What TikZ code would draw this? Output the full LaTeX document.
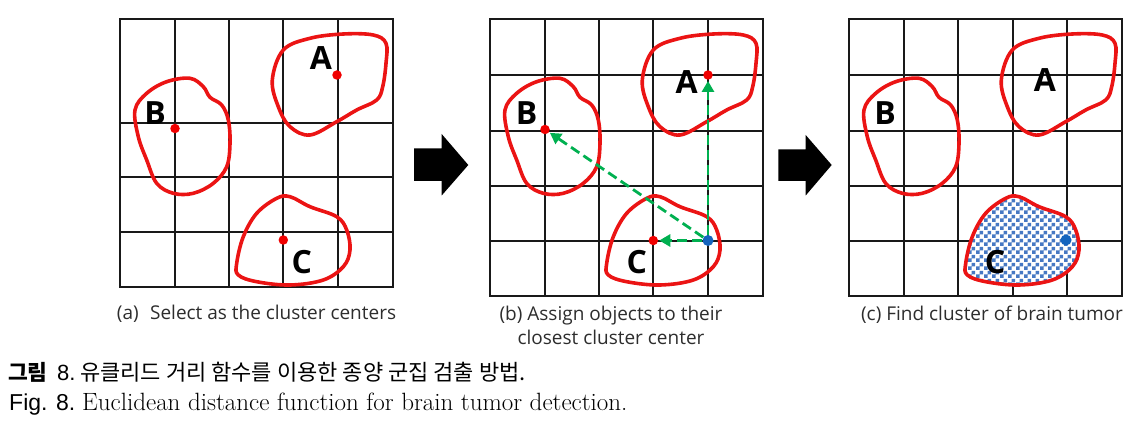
\documentclass[tikz,border=0pt]{standalone}
\usepackage{fontspec}
\newfontfamily\osans{Open Sans}
\newfontfamily\krfont{Noto Sans CJK KR}
\newfontfamily\arialfont{Liberation Sans}
\usetikzlibrary{arrows.meta,patterns}
\definecolor{blobred}{RGB}{235,20,20}
\definecolor{dotred}{RGB}{240,0,0}
\definecolor{dotblue}{RGB}{20,100,190}
\definecolor{arrgreen}{RGB}{0,176,80}
\definecolor{tumorblue}{RGB}{70,120,195}
\definecolor{captgray}{RGB}{45,45,45}
\pgfdeclarepatternformonly{bluechecker}{\pgfqpoint{0pt}{0pt}}{\pgfqpoint{8pt}{8pt}}{\pgfqpoint{8pt}{8pt}}{%
  \pgfpathrectangle{\pgfqpoint{0pt}{0pt}}{\pgfqpoint{4pt}{4pt}}%
  \pgfpathrectangle{\pgfqpoint{4pt}{4pt}}{\pgfqpoint{4pt}{4pt}}%
  \pgfusepath{fill}}
\newcommand{\myblobA}{plot[smooth cycle,tension=0.6] coordinates {(152.3,61) (163.3,31) (190,19.3) (223.3,15) (253.3,16) (266,24.3) (266,44.3) (262.7,67.7) (256.7,81) (236.7,91) (216.7,102.7) (190,116) (170,107.7) (158.3,87.7)}}
\newcommand{\myblobB}{plot[smooth cycle,tension=0.6] coordinates {(15,91) (26.7,74.3) (46.7,62.7) (70,59.3) (83.3,67.7) (90,78.3) (101.7,86) (108.3,101) (110,124.3) (106.7,147.7) (93.3,164.3) (73.3,174.3) (53.3,174.3) (36.7,164.3) (26.7,141) (18.3,117.7)}}
\newcommand{\myblobC}{plot[smooth cycle,tension=0.6] coordinates {(116.7,244.3) (123.3,217.7) (136.7,194.3) (156.7,179.3) (170,177.7) (190,187.7) (216.7,197.7) (226.7,211) (230,231) (223.3,247.7) (203.3,261) (170,266) (136.7,262.7) (118.3,256)}}
\tikzset{
  gridline/.style={line width=1.8pt, draw=black!90},
  blob/.style={line width=3.6pt, draw=blobred},
  reddot/.style={circle, fill=dotred, inner sep=0pt, minimum size=9.5pt},
  bluedot/.style={circle, fill=dotblue, inner sep=0pt, minimum size=11pt},
  letter/.style={font=\osans\bfseries\fontsize{32}{32}\selectfont, inner sep=0pt},
  greenarrow/.style={arrgreen, line width=2.8pt, dash pattern=on 10pt off 5pt, -{Triangle[length=11pt,width=12pt]}, shorten >=1pt},
  bigarrow/.style={fill=black},
  panelcap/.style={font=\osans\fontsize{19}{24}\selectfont, text=captgray, inner sep=0pt}
}
\begin{document}
\begin{tikzpicture}[x=1pt,y=-1pt]
\useasboundingbox (0,0) rectangle (1144,422);
% ---------- panel (a)
\begin{scope}[xshift=120pt,yshift=-19pt]
  \draw[gridline] (0,0) rectangle (273,268);
  \foreach \xx in {55,109,163,218} \draw[gridline] (\xx,0) -- (\xx,268);
  \foreach \yy in {104,158,213} \draw[gridline] (0,\yy) -- (273,\yy);
  \draw[blob] \myblobA;
  \draw[blob] \myblobB;
  \draw[blob] \myblobC;
  \node[reddot] (aA) at (217,56) {};
  \node[reddot] (aB) at (55,109.5) {};
  \node[reddot] (aC) at (163.3,221) {};
  \node[letter] (aLA) at (201,39.5) {A};
  \node[letter] (aLB) at (35,94.5) {B};
  \node[letter] (aLC) at (181.7,242.7) {C};
\end{scope}
\node[panelcap] (capa) at (256.5,314) {(a)\hspace{0.6em}Select as the cluster centers};
% ---------- arrow 1
\fill[bigarrow] (414,148.3) -- (441.7,148.3) -- (441.7,134) -- (468.3,165) -- (441.7,195.5) -- (441.7,180.8) -- (414,180.8) -- cycle;
% ---------- panel (b)
\begin{scope}[xshift=490pt,yshift=-19pt]
  \draw[gridline] (0,0) rectangle (273,277);
  \foreach \xx in {55,109,163,218} \draw[gridline] (\xx,0) -- (\xx,277);
  \foreach \yy in {56,112,167,222} \draw[gridline] (0,\yy) -- (273,\yy);
  \draw[blob] \myblobA;
  \draw[blob] \myblobB;
  \draw[blob] \myblobC;
  \node[reddot] (bA) at (218,56) {};
  \node[reddot] (bB) at (55,110.5) {};
  \node[reddot] (bC) at (163.3,221.5) {};
  \node[bluedot] (bO) at (218,221.5) {};
  \node[letter] (bLA) at (196.7,62.7) {A};
  \node[letter] (bLB) at (36.7,94.5) {B};
  \node[letter] (bLC) at (146.7,242.7) {C};
  \draw[greenarrow] (bO) -- (bA);
  \draw[greenarrow] (bO) -- (bB);
  \draw[greenarrow] (bO) -- (bC);
\end{scope}
\node[panelcap, align=center] (capb) at (611,325) {(b) Assign objects to their\\closest cluster center};
% ---------- arrow 2
\fill[bigarrow] (778.3,149.3) -- (805.7,149.3) -- (805.7,135) -- (831.7,165) -- (805.7,195.5) -- (805.7,181) -- (778.3,181) -- cycle;
% ---------- panel (c)
\begin{scope}[xshift=849pt,yshift=-19pt]
  \draw[gridline] (0,0) rectangle (273,277);
  \foreach \xx in {55,109,164,218} \draw[gridline] (\xx,0) -- (\xx,277);
  \foreach \yy in {56,112,167,222} \draw[gridline] (0,\yy) -- (273,\yy);
  \fill[white] \myblobC;
  \fill[pattern=bluechecker, pattern color=tumorblue] \myblobC;
  \draw[blob] \myblobA;
  \draw[blob] \myblobB;
  \draw[blob] \myblobC;
  \node[bluedot] (cO) at (217,221) {};
  \node[letter] (cLA) at (196,61) {A};
  \node[letter] (cLB) at (36,94.5) {B};
  \node[letter] (cLC) at (146,242.7) {C};
\end{scope}
\node[panelcap] (capc) at (992,315) {(c) Find cluster of brain tumor};
% ---------- figure captions
\node[anchor=base west, inner sep=0pt] (krA) at (8,380) {\krfont\bfseries\fontsize{21.5}{22}\selectfont 그림};
\node[anchor=base west, inner sep=0pt] (kr8) at (57,380) {\arialfont\fontsize{22}{22}\selectfont 8.};
\node[anchor=base west, inner sep=0pt] (krB) at (80,380) {\krfont\fontsize{22}{22}\selectfont 유클리드 거리 함수를 이용한 종양 군집 검출 방법.};
\node[anchor=base west, inner sep=0pt] (enA) at (9,410) {\arialfont\fontsize{23}{22}\selectfont Fig. 8.};
\node[anchor=base west, inner sep=0pt] (enB) at (82,410) {\fontsize{25}{22}\selectfont Euclidean distance function for brain tumor detection.};
\end{tikzpicture}
\end{document}
